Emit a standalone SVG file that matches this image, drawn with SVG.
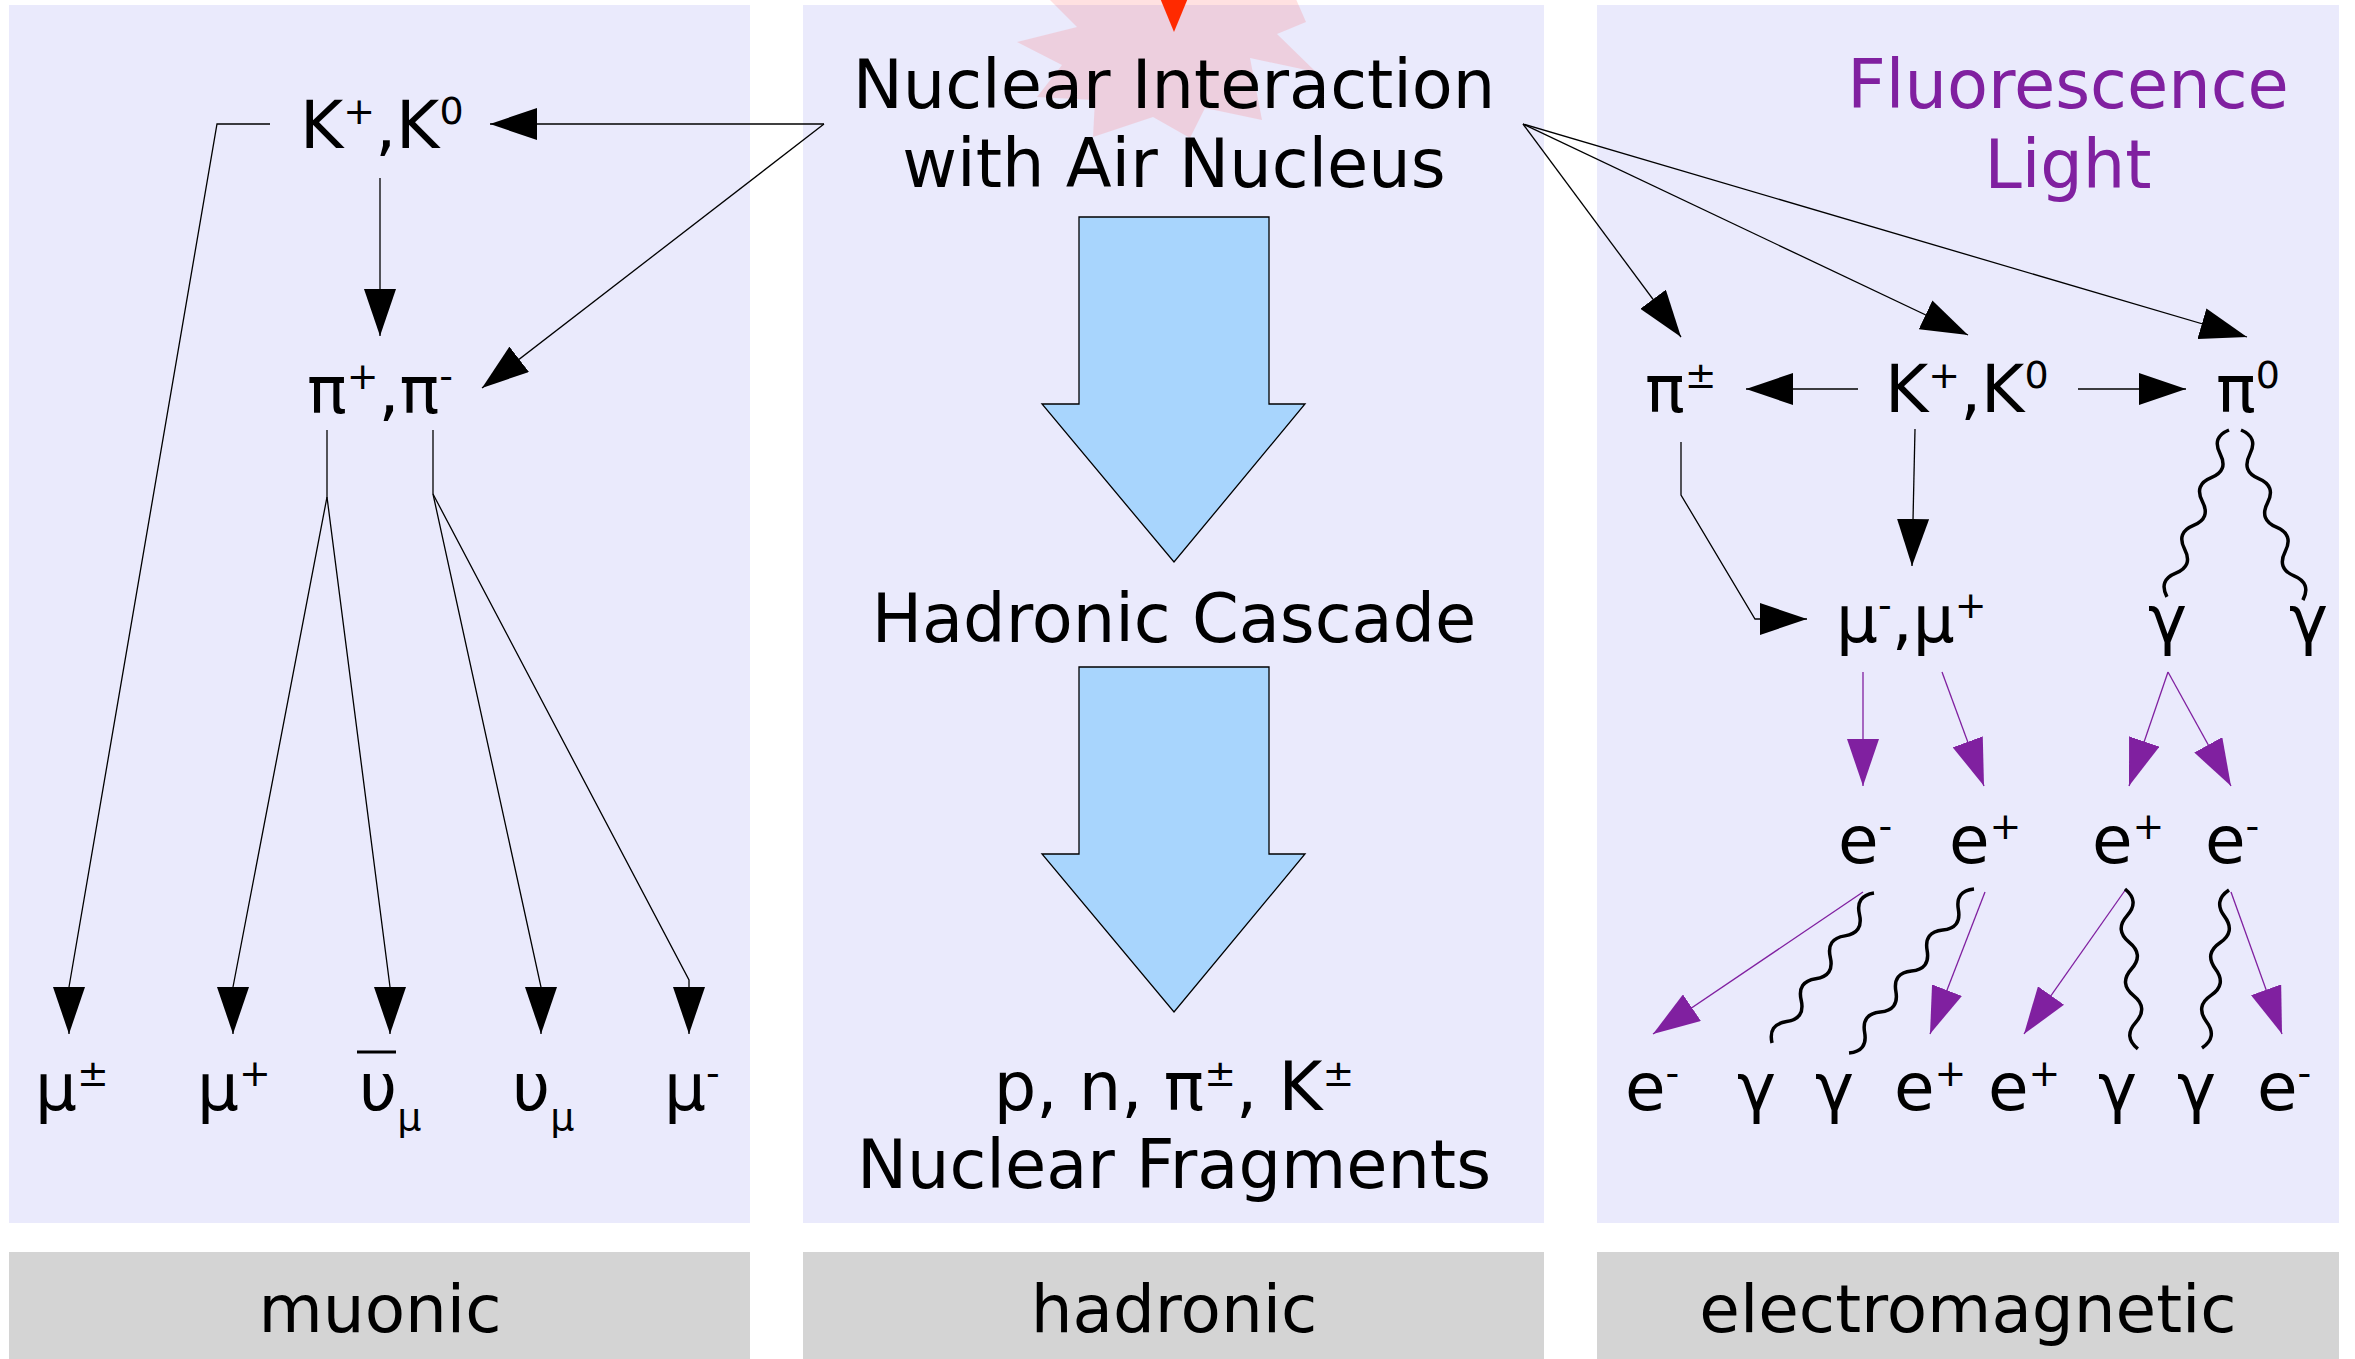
<svg xmlns="http://www.w3.org/2000/svg" width="2355" height="1359" viewBox="0 0 2355 1359">
<style>
text{font-family:"DejaVu Sans","Liberation Sans",sans-serif;font-size:66px;fill:#000}
.big{font-size:67px}
.mid{text-anchor:middle}
.sup{font-size:38px}
.purple{fill:#8020a0}
.panel{fill:#eaeafc}
.label{fill:#d4d4d4}
.ln{fill:none;stroke:#000;stroke-width:1.3}
.pl{fill:none;stroke:#8020a0;stroke-width:1.3}
.wave{fill:none;stroke:#000;stroke-width:3.5}
.block{fill:#a8d5fd;stroke:#000;stroke-width:1.3}
</style>
<defs>
<marker id="ah" markerUnits="userSpaceOnUse" markerWidth="47" markerHeight="32" viewBox="0 0 47 32" refX="47" refY="16" orient="auto"><path d="M0,0 L47,16 L0,32 z" fill="#000"/></marker>
<marker id="ahp" markerUnits="userSpaceOnUse" markerWidth="47" markerHeight="32" viewBox="0 0 47 32" refX="47" refY="16" orient="auto"><path d="M0,0 L47,16 L0,32 z" fill="#8020a0"/></marker>
</defs>
<rect width="2355" height="1359" fill="#fff"/>
<g id="panels">
<rect class="panel" x="9" y="5" width="741" height="1218"/>
<rect class="panel" x="803" y="5" width="741" height="1218"/>
<rect class="panel" x="1597" y="5" width="742" height="1218"/>
<rect class="label" x="9" y="1252" width="741" height="110"/>
<rect class="label" x="803" y="1252" width="741" height="110"/>
<rect class="label" x="1597" y="1252" width="742" height="110"/>
</g>
<g id="burst">
<polygon points="1040,-10 1077,27 1017,42 1062,65 1037,97 1095,100 1093,137 1153,117 1190,138 1205,108 1262,120 1250,58 1316,72 1277,34 1306,22 1292,-10" fill="#ff5a5a" fill-opacity="0.18"/>
<polygon points="1160,-2 1188,-2 1174,32" fill="#ff2a00"/>
</g>
<g id="connectors">
<path class="ln" d="M824,124 L490,124" marker-end="url(#ah)"/>
<path class="ln" d="M824,124 L482,388" marker-end="url(#ah)"/>
<path class="ln" d="M380,178 L380,336" marker-end="url(#ah)"/>
<path class="ln" d="M270,124 L217,124 L69,987 L69,1034" marker-end="url(#ah)"/>
<path class="ln" d="M327,430 L327,497"/>
<path class="ln" d="M327,497 L233,987 L233,1034" marker-end="url(#ah)"/>
<path class="ln" d="M327,497 L390,987 L390,1034" marker-end="url(#ah)"/>
<path class="ln" d="M433,430 L433,494"/>
<path class="ln" d="M433,494 L541,987 L541,1034" marker-end="url(#ah)"/>
<path class="ln" d="M433,494 L689,980 L689,1034" marker-end="url(#ah)"/>
<path class="ln" d="M1523,124 L1681,337" marker-end="url(#ah)"/>
<path class="ln" d="M1523,124 L1968,335" marker-end="url(#ah)"/>
<path class="ln" d="M1523,124 L2247,337" marker-end="url(#ah)"/>
<path class="ln" d="M1858,389 L1746,389" marker-end="url(#ah)"/>
<path class="ln" d="M2078,389 L2186,389" marker-end="url(#ah)"/>
<path class="ln" d="M1681,442 L1681,495 L1755,619 L1807,619" marker-end="url(#ah)"/>
<path class="ln" d="M1915,429 L1912,566" marker-end="url(#ah)"/>
<path class="pl" d="M1863,672 L1863,786" marker-end="url(#ahp)"/>
<path class="pl" d="M1942,672 L1984,786" marker-end="url(#ahp)"/>
<path class="pl" d="M2168,672 L2129,786" marker-end="url(#ahp)"/>
<path class="pl" d="M2168,672 L2231,786" marker-end="url(#ahp)"/>
<path class="pl" d="M1863,892 L1653,1034" marker-end="url(#ahp)"/>
<path class="pl" d="M1985,892 L1930,1034" marker-end="url(#ahp)"/>
<path class="pl" d="M2126,889 L2024,1034" marker-end="url(#ahp)"/>
<path class="pl" d="M2231,892 L2282,1034" marker-end="url(#ahp)"/>
<path class="wave" transform="translate(2229 430) rotate(110.4)" d="M0,0 q12.72,14 25.44,0 t25.44,0 t25.44,0 t25.44,0 t25.44,0 t25.44,0 t25.44,0"/>
<path class="wave" transform="translate(2241 430) rotate(70)" d="M0,0 q12.93,-14 25.86,0 t25.86,0 t25.86,0 t25.86,0 t25.86,0 t25.86,0 t25.86,0"/>
<path class="wave" transform="translate(1874 893) rotate(124.2)" d="M0,0 q12.95,14 25.91,0 t25.91,0 t25.91,0 t25.91,0 t25.91,0 t25.91,0 t25.91,0"/>
<path class="wave" transform="translate(1974 889) rotate(127.3)" d="M0,0 q12.89,14 25.78,0 t25.78,0 t25.78,0 t25.78,0 t25.78,0 t25.78,0 t25.78,0 t25.78,0"/>
<path class="wave" transform="translate(2125 889) rotate(85.4)" d="M0,0 q13.37,-14 26.75,0 t26.75,0 t26.75,0 t26.75,0 t26.75,0 t26.75,0"/>
<path class="wave" transform="translate(2229 890) rotate(99.7)" d="M0,0 q13.36,14 26.72,0 t26.72,0 t26.72,0 t26.72,0 t26.72,0 t26.72,0"/>
<path class="block" d="M1079,217 L1269,217 L1269,404 L1305,404 L1174,562 L1042,404 L1079,404 Z"/>
<path class="block" d="M1079,667 L1269,667 L1269,854 L1305,854 L1174,1012 L1042,854 L1079,854 Z"/>
</g>
<g id="node-nuclear-interaction"><text class="mid big" x="1174" y="108">Nuclear Interaction</text><text class="mid big" x="1174" y="187">with Air Nucleus</text></g>
<g id="node-hadronic-cascade"><text class="mid big" x="1174" y="642">Hadronic Cascade</text></g>
<g id="node-fragments"><text class="mid big" x="1174" y="1110">p, n, π<tspan class="sup" dy="-24">±</tspan><tspan dy="24">, K</tspan><tspan class="sup" dy="-24">±</tspan></text><text class="mid big" x="1174" y="1188">Nuclear Fragments</text></g>
<g id="node-fluorescence"><text class="mid purple big" x="2068" y="108">Fluorescence</text><text class="mid purple big" x="2068" y="188">Light</text></g>
<g id="node-left-kaon"><text x="300" y="148">K<tspan class="sup" dy="-24">+</tspan><tspan dy="24">,K</tspan><tspan class="sup" dy="-24">0</tspan></text></g>
<g id="node-left-pion"><text x="307" y="413">π<tspan class="sup" dy="-24">+</tspan><tspan dy="24">,π</tspan><tspan class="sup" dy="-24">-</tspan></text></g>
<g id="node-mu-pm"><text x="35" y="1110">μ<tspan class="sup" dy="-24">±</tspan></text></g>
<g id="node-mu-plus"><text x="197" y="1110">μ<tspan class="sup" dy="-24">+</tspan></text></g>
<g id="node-antinu"><text x="359" y="1110">υ<tspan class="sup" dy="20">μ</tspan></text><line x1="357" y1="1052" x2="396" y2="1052" stroke="#000" stroke-width="3"/></g>
<g id="node-nu"><text x="512" y="1110">υ<tspan class="sup" dy="20">μ</tspan></text></g>
<g id="node-mu-minus"><text x="664" y="1110">μ<tspan class="sup" dy="-24">-</tspan></text></g>
<g id="node-right-pion-pm"><text x="1645" y="412">π<tspan class="sup" dy="-24">±</tspan></text></g>
<g id="node-right-kaon"><text x="1885" y="412">K<tspan class="sup" dy="-24">+</tspan><tspan dy="24">,K</tspan><tspan class="sup" dy="-24">0</tspan></text></g>
<g id="node-pion0"><text x="2216" y="412">π<tspan class="sup" dy="-24">0</tspan></text></g>
<g id="node-muons"><text x="1836" y="642">μ<tspan class="sup" dy="-24">-</tspan><tspan dy="24">,μ</tspan><tspan class="sup" dy="-24">+</tspan></text></g>
<g id="node-gamma-1"><text x="2148" y="642">γ</text></g>
<g id="node-gamma-2"><text x="2289" y="642">γ</text></g>
<g id="node-e-row1">
<text x="1838" y="863">e<tspan class="sup" dy="-24">-</tspan></text>
<text x="1949" y="863">e<tspan class="sup" dy="-24">+</tspan></text>
<text x="2092" y="863">e<tspan class="sup" dy="-24">+</tspan></text>
<text x="2205" y="863">e<tspan class="sup" dy="-24">-</tspan></text>
</g>
<g id="node-row2">
<text x="1625" y="1110">e<tspan class="sup" dy="-24">-</tspan></text>
<text x="1737" y="1110">γ</text>
<text x="1815" y="1110">γ</text>
<text x="1894" y="1110">e<tspan class="sup" dy="-24">+</tspan></text>
<text x="1988" y="1110">e<tspan class="sup" dy="-24">+</tspan></text>
<text x="2098" y="1110">γ</text>
<text x="2177" y="1110">γ</text>
<text x="2257" y="1110">e<tspan class="sup" dy="-24">-</tspan></text>
</g>
<g id="labels">
<text class="mid" x="380" y="1332">muonic</text>
<text class="mid" x="1174" y="1332">hadronic</text>
<text class="mid" x="1968" y="1332">electromagnetic</text>
</g>
</svg>
